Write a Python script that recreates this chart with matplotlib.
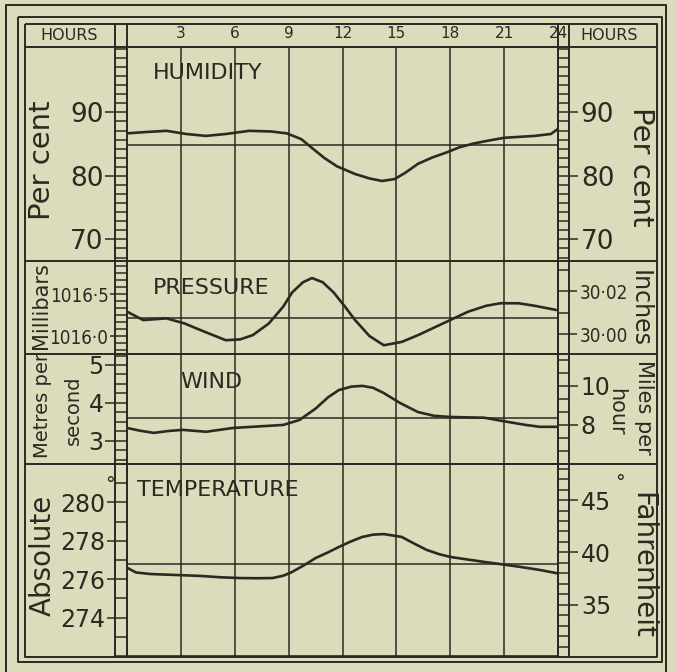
import matplotlib
matplotlib.use("Agg")
from matplotlib import pyplot as plt
from matplotlib import font_manager
from matplotlib.font_manager import FontProperties
from matplotlib.textpath import TextPath
from matplotlib.ticker import FixedLocator, FixedFormatter, MultipleLocator

W, H = 675, 672
PAPER = '#dcdbbb'
INK = '#2b2a22'
plt.rcParams['font.family'] = ['DejaVu Sans']

# hour marks along the top
hour_ticks = [0, 3, 6, 9, 12, 15, 18, 21, 24]
hour_labels = ['', '3', '6', '9', '12', '15', '18', '21', '24']

# humidity, per cent
hum_hours = [0, 1, 2.2, 3.3, 4.4, 5.5, 6.8, 8.0, 8.9, 9.7, 10.3, 11.0, 11.7, 12.7, 13.5, 14.2,
             14.9, 15.5, 16.2, 17.0, 17.8, 18.5, 19.3, 20.2, 21.0, 22.7, 23.6, 24.0]
hum_values = [86.7, 86.9, 87.1, 86.6, 86.3, 86.6, 87.1, 87.0, 86.7, 85.8, 84.4, 82.8, 81.5, 80.3, 79.6, 79.2,
              79.5, 80.5, 81.9, 82.9, 83.7, 84.5, 85.1, 85.6, 86.0, 86.3, 86.6, 87.4]
hum_mean = 84.8

# pressure, millibars
pres_hours = [0, 0.9, 2.2, 3.2, 4.1, 5.5, 6.3, 7.0, 7.9, 8.7, 9.2, 9.8, 10.3, 10.9, 11.5, 12.1, 12.7,
              13.5, 14.3, 15.3, 16.2, 17.1, 18.0, 19.0, 20.0, 20.8, 21.8, 22.7, 23.9]
pres_values = [1016.29, 1016.19, 1016.21, 1016.15, 1016.07, 1015.95, 1015.96, 1016.01, 1016.15, 1016.35,
               1016.52, 1016.64, 1016.69, 1016.64, 1016.52, 1016.36, 1016.19, 1016.00, 1015.89, 1015.93,
               1016.01, 1016.10, 1016.19, 1016.29, 1016.36, 1016.39, 1016.39, 1016.36, 1016.31]
pres_mean = 1016.21

# wind, metres per second
wind_hours = [0, 0.7, 1.5, 2.3, 3.1, 4.4, 5.9, 7.3, 8.7, 9.6, 10.5, 11.2, 11.8, 12.5, 13.1, 13.7, 14.3,
              15.2, 16.2, 17.1, 18.0, 19.9, 21.2, 22.2, 23.0, 24.0]
wind_values = [3.34, 3.27, 3.21, 3.26, 3.29, 3.24, 3.34, 3.38, 3.42, 3.55, 3.85, 4.15, 4.34, 4.43, 4.45, 4.40,
               4.26, 4.00, 3.76, 3.66, 3.63, 3.61, 3.50, 3.42, 3.37, 3.37]
wind_mean = 3.61

# temperature, absolute degrees
temp_hours = [0, 0.5, 1.3, 2.7, 4.1, 5.2, 6.3, 7.2, 8.1, 8.7, 9.2, 9.9, 10.5, 11.2, 11.8, 12.5, 13.1,
              13.7, 14.3, 15.3, 16.0, 16.7, 17.4, 18.0, 19.0, 19.9, 21.0, 21.9, 23.0, 24.0]
temp_values = [276.6, 276.35, 276.27, 276.22, 276.17, 276.1, 276.06, 276.05, 276.06, 276.18, 276.38, 276.75,
               277.10, 277.40, 277.68, 277.98, 278.20, 278.32, 278.35, 278.20, 277.85, 277.52, 277.30,
               277.16, 277.02, 276.90, 276.76, 276.64, 276.48, 276.30]
temp_mean = 276.79

# scale ticks and labels, left and right
hum_ticks, hum_labels = [70, 80, 90], ['70', '80', '90']
pres_ticks, pres_labels = [1016.0, 1016.5], ['1016·0', '1016·5']
inch_ticks, inch_labels = [30.00, 30.02], ['30·00', '30·02']
wind_ticks, wind_labels = [3, 4, 5], ['3', '4', '5']
mph_ticks, mph_labels = [8, 10], ['8', '10']
temp_ticks, temp_labels = [274, 276, 278, 280], ['274', '276', '278', '280']
fahr_ticks, fahr_labels = [35, 40, 45], ['35', '40', '45']


def rect(x0, y0, x1, y1):
    return [x0 / W, 1 - y1 / H, (x1 - x0) / W, (y1 - y0) / H]


def put(x, y, s, **kw):
    kw.setdefault('ha', 'center')
    kw.setdefault('va', 'center')
    fig.text(x / W, 1 - y / H, s, color=INK, **kw)


def px(n):
    return n * 0.72


def narrow_font():
    # the pressure figures are set in a condensed face in the original
    plain = [f for f in font_manager.fontManager.ttflist
             if 'Bold' not in f.fname and 'Italic' not in f.fname and 'Oblique' not in f.fname]
    for f in plain:
        if f.name == 'Liberation Sans Narrow':
            return f.fname
    for f in plain:
        if f.stretch == 'condensed' and 'DejaVuSans' in f.fname and 'Mono' not in f.fname:
            return f.fname
    return None


def fit_size(fp, text, width_px, cap):
    w = TextPath((0, 0), text, size=1, prop=fp).get_extents().width
    return min(cap, width_px * 0.72 / w)


nf = narrow_font()
narrow = FontProperties(fname=nf) if nf else FontProperties(family='DejaVu Sans')

fig = plt.figure(figsize=(W / 100, H / 100), dpi=100, facecolor=PAPER)

# frame and ruling
deco = fig.add_axes([0, 0, 1, 1])
deco.set_xlim(0, W)
deco.set_ylim(H, 0)
deco.axis('off')
lk = dict(color=INK, lw=1.4, solid_capstyle='butt')
deco.plot([6, 6, 666, 666], [672, 5, 5, 672], **lk)
deco.plot([18, 662, 662, 18, 18], [17, 17, 662, 662, 17], **lk)
deco.plot([25, 657, 657, 25, 25], [24, 24, 657, 657, 24], **lk)
for yy in [47, 261, 354, 464]:
    deco.plot([25, 657], [yy, yy], **lk)
for xx in [115, 127, 558, 569]:
    deco.plot([xx, xx], [24, 657], **lk)

panels = [
    dict(top=47, bottom=261, ylim=(66.6, 100.3), hours=hum_hours, values=hum_values, mean=hum_mean,
         lt=hum_ticks, ll=hum_labels, lminor=10 / 7, lsize=19, llen=22,
         rlim=(66.6, 100.3), rt=hum_ticks, rl=hum_labels, rminor=10 / 7, rsize=19, rlen=20),
    dict(top=261, bottom=354, ylim=(1015.786, 1016.893), hours=pres_hours, values=pres_values, mean=pres_mean,
         lt=pres_ticks, ll=pres_labels, lminor=1 / 12, lsize=None, llen=17, lwidth=56,
         rlim=(29.9907, 30.034), rt=inch_ticks, rl=inch_labels, rminor=0.01, rsize=None, rlen=19, rwidth=46),
    dict(top=354, bottom=464, ylim=(2.39, 5.29), hours=wind_hours, values=wind_values, mean=wind_mean,
         lt=wind_ticks, ll=wind_labels, lminor=0.25, lsize=17, llen=22,
         rlim=(6.0, 11.64), rt=mph_ticks, rl=mph_labels, rminor=2 / 3, rsize=17, rlen=20),
    dict(top=464, bottom=656, ylim=(272, 282), hours=temp_hours, values=temp_values, mean=temp_mean,
         lt=temp_ticks, ll=temp_labels, lminor=1, lsize=17, llen=20,
         rlim=(30.14, 48.43), rt=fahr_ticks, rl=fahr_labels, rminor=1, rsize=17, rlen=20),
]

axes = []
for p in panels:
    ax = fig.add_axes(rect(127, p['top'], 558, p['bottom']))
    ax.set_facecolor('none')
    ax.set_xlim(0, 24)
    ax.set_ylim(*p['ylim'])
    ax.plot(p['hours'], p['values'], color=INK, lw=1.9, solid_capstyle='round')
    ax.axhline(p['mean'], color=INK, lw=1.1)
    ax.set_xticks(hour_ticks)
    ax.grid(axis='x', color=INK, lw=1.1)
    ax.tick_params(axis='x', length=0, labelbottom=False)
    ax.yaxis.set_major_locator(FixedLocator(p['lt']))
    ax.yaxis.set_major_formatter(FixedFormatter(p['ll']))
    ax.yaxis.set_minor_locator(MultipleLocator(p['lminor']))
    ax.tick_params(axis='y', which='major', direction='out', length=px(p['llen']), width=1.1,
                   color=INK, labelcolor=INK, pad=1)
    ax.tick_params(axis='y', which='minor', direction='out', length=px(12), width=1.1, color=INK)
    for s in ax.spines.values():
        s.set_color(INK)
        s.set_linewidth(1.2)

    rx = ax.twinx()
    rx.set_ylim(*p['rlim'])
    rx.yaxis.set_major_locator(FixedLocator(p['rt']))
    rx.yaxis.set_major_formatter(FixedFormatter(p['rl']))
    rx.yaxis.set_minor_locator(MultipleLocator(p['rminor']))
    rx.tick_params(axis='y', which='major', direction='out', length=px(p['rlen']), width=1.1,
                   color=INK, labelcolor=INK, pad=2)
    rx.tick_params(axis='y', which='minor', direction='out', length=px(11), width=1.1, color=INK)
    for s in rx.spines.values():
        s.set_visible(False)

    if p['lsize'] is None:
        fpl = narrow.copy()
        fpl.set_size(fit_size(narrow, p['ll'][0], p['lwidth'], 17))
        for t in ax.get_yticklabels():
            t.set_fontproperties(fpl)
        fpr = narrow.copy()
        fpr.set_size(fit_size(narrow, p['rl'][0], p['rwidth'], 17))
        for t in rx.get_yticklabels():
            t.set_fontproperties(fpr)
    else:
        ax.tick_params(axis='y', which='major', labelsize=p['lsize'])
        rx.tick_params(axis='y', which='major', labelsize=p['rsize'])
    axes.append(ax)

top = axes[0]
top.set_xticklabels(hour_labels)
top.tick_params(axis='x', labeltop=True, labelsize=11, labelcolor=INK, pad=4)

# header
put(69, 36, 'HOURS', fontsize=11.5)
put(609, 36, 'HOURS', fontsize=11.5)

# panel names
put(153, 73, 'HUMIDITY', fontsize=16, ha='left')
put(153, 288, 'PRESSURE', fontsize=16, ha='left')
put(180, 382, 'WIND', fontsize=16, ha='left')
put(137, 490, 'TEMPERATURE', fontsize=16, ha='left')

# unit names
put(42, 160, 'Per cent', fontsize=21, rotation=90)
put(641, 167, 'Per cent', fontsize=21, rotation=270)
put(41, 306, 'Millibars', fontsize=15, rotation=90)
put(640, 309, 'Inches', fontsize=17, rotation=270)
put(42, 405, 'Metres per', fontsize=14, rotation=90)
put(73, 410, 'second', fontsize=14, rotation=90)
put(644, 407, 'Miles per', fontsize=15, rotation=270)
put(616, 412, 'hour', fontsize=15, rotation=270)
put(43, 555, 'Absolute', fontsize=20, rotation=90)
put(642, 565, 'Fahrenheit', fontsize=20, rotation=270)
put(110, 484, '°', fontsize=14)
put(620, 482, '°', fontsize=14)

fig.savefig('out.png', dpi=100, facecolor=PAPER)
